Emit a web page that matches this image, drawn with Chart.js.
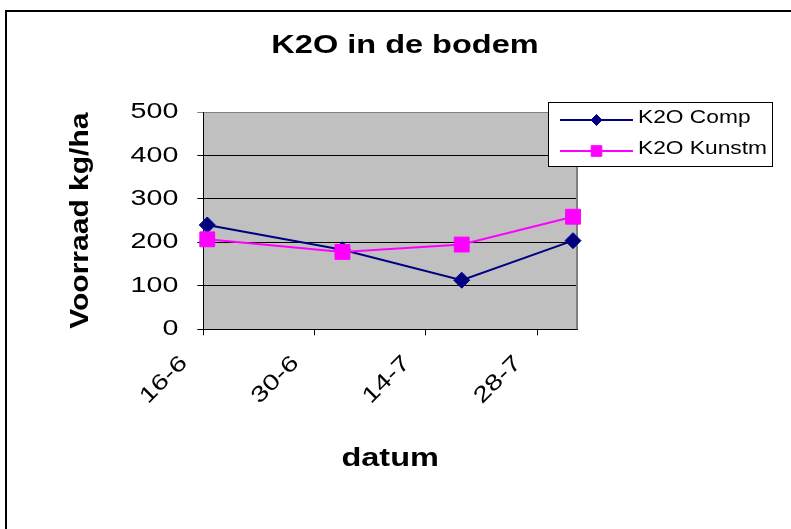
<!DOCTYPE html>
<html>
<head>
<meta charset="utf-8">
<title>K2O in de bodem</title>
<script src="https://cdn.jsdelivr.net/npm/chart.js@4.4.1/dist/chart.umd.min.js"></script>
<style>
    html, body { margin: 0; padding: 0; background: #fff; }
    #chart-container { position: relative; width: 791px; height: 529px; }
</style>
</head>
<body>
<div id="chart-container">
    <canvas id="k2oChart" width="791" height="529"></canvas>
</div>
<script>
// data (day-month)
const dates = ['16-6', '3-7', '18-7', '1-8'];
const compValues = [240, 183, 113, 204];
const kunstmValues = [207, 178, 195, 259];
const seriesLabels = ['K2O Comp', 'K2O Kunstm'];
const xTickLabels = ['16-6', '30-6', '14-7', '28-7'];
const xAxisEnd = '2-8';
const yTicks = [0, 100, 200, 300, 400, 500];

const FONT = '"Liberation Sans", Arial, sans-serif';
const NAVY = '#000080';
const PINK = '#FF00FF';

document.addEventListener('DOMContentLoaded', function () {
    buildChart();
});

// days since the first tick date
function dayNumber(label) {
    const [d, m] = label.split('-').map(Number);
    const [d0, m0] = xTickLabels[0].split('-').map(Number);
    return Math.round((Date.UTC(2000, m - 1, d) - Date.UTC(2000, m0 - 1, d0)) / 86400000);
}

// Excel date axis puts each point in the middle of its day slot
function toPoints(values) {
    return values.map((v, i) => ({ x: dayNumber(dates[i]) + 0.5, y: v }));
}

// old Excel exports draw text wider than normal: stretch it along the baseline
function widenText(ctx, factor, verticalFactor) {
    const origFill = ctx.fillText;
    const origMeasure = ctx.measureText;
    ctx.fillText = function (text, x, y) {
        const t = this.getTransform();
        const s = Math.abs(t.a) < 0.01 ? verticalFactor : factor;
        this.save();
        this.translate(x, y);
        this.scale(s, 1);
        origFill.call(this, text, 0, 0);
        this.restore();
    };
    ctx.measureText = function (text) {
        const m = origMeasure.call(this, text);
        return {
            width: m.width * factor,
            actualBoundingBoxAscent: m.actualBoundingBoxAscent,
            actualBoundingBoxDescent: m.actualBoundingBoxDescent,
            actualBoundingBoxLeft: m.actualBoundingBoxLeft * factor,
            actualBoundingBoxRight: m.actualBoundingBoxRight * factor
        };
    };
}

const plotAreaPlugin = {
    id: 'plotArea',
    beforeDraw(chart) {
        const { ctx, chartArea: a } = chart;
        ctx.save();
        ctx.fillStyle = '#C0C0C0';
        ctx.fillRect(a.left, a.top, a.right - a.left, a.bottom - a.top);
        ctx.restore();
    },
    beforeDatasetsDraw(chart) {
        const { ctx, chartArea: a } = chart;
        ctx.save();
        ctx.strokeStyle = '#808080';
        ctx.lineWidth = 2;
        ctx.beginPath();
        ctx.moveTo(a.right, a.top);
        ctx.lineTo(a.right, a.bottom);
        ctx.stroke();
        ctx.restore();
    }
};

const framePlugin = {
    id: 'frame',
    afterDraw(chart) {
        const ctx = chart.ctx;
        ctx.save();
        ctx.strokeStyle = '#000';
        ctx.lineWidth = 2;
        ctx.strokeRect(6, 11, 900, 700);
        ctx.restore();
    }
};

const legendBoxPlugin = {
    id: 'legendBox',
    afterDraw(chart) {
        const ctx = chart.ctx;
        const rows = [120, 151];
        ctx.save();
        ctx.fillStyle = '#fff';
        ctx.fillRect(548.5, 102.5, 224, 64);
        ctx.strokeStyle = '#000';
        ctx.lineWidth = 1;
        ctx.strokeRect(548.5, 102.5, 224, 64);

        chart.data.datasets.forEach((ds, i) => {
            const y = rows[i];
            ctx.strokeStyle = ds.borderColor;
            ctx.lineWidth = 2;
            ctx.beginPath();
            ctx.moveTo(560, y);
            ctx.lineTo(633, y);
            ctx.stroke();

            ctx.fillStyle = ds.pointBackgroundColor;
            ctx.strokeStyle = ds.pointBorderColor;
            ctx.lineWidth = 1;
            Chart.helpers.drawPoint(ctx, {
                pointStyle: ds.pointStyle,
                radius: ds.pointStyle === 'rect' ? 7.5 : 5.5,
                rotation: 0,
                borderWidth: 1
            }, 596.5, y);

            ctx.fillStyle = '#000';
            ctx.font = '17.5px ' + FONT;
            ctx.textAlign = 'left';
            ctx.textBaseline = 'middle';
            ctx.fillText(ds.label, 638, y - 1.5);
        });
        ctx.restore();
    }
};

function buildChart() {
    const ctx = document.getElementById('k2oChart').getContext('2d');
    widenText(ctx, 1.3, 1.2);
    const tickDays = xTickLabels.map(dayNumber);
    const leftPad = 19;

    new Chart(ctx, {
        type: 'line',
        data: {
            datasets: [{
                label: seriesLabels[0],
                data: toPoints(compValues),
                borderColor: NAVY,
                backgroundColor: NAVY,
                pointBackgroundColor: NAVY,
                pointBorderColor: NAVY,
                pointStyle: 'rectRot',
                pointRadius: 8,
                pointBorderWidth: 1,
                borderWidth: 2,
                clip: false,
                order: 1
            }, {
                label: seriesLabels[1],
                data: toPoints(kunstmValues),
                borderColor: PINK,
                backgroundColor: PINK,
                pointBackgroundColor: PINK,
                pointBorderColor: PINK,
                pointStyle: 'rect',
                pointRadius: 10.5,
                pointBorderWidth: 1,
                borderWidth: 2,
                clip: false,
                order: 0
            }]
        },
        options: {
            responsive: false,
            animation: false,
            layout: { padding: { top: 0, left: leftPad, right: 0, bottom: 0 } },
            scales: {
                x: {
                    type: 'linear',
                    min: 0,
                    max: dayNumber(xAxisEnd),
                    afterBuildTicks: (scale) => {
                        scale.ticks = tickDays.map(v => ({ value: v }));
                    },
                    afterFit: (scale) => { scale.height = 529 - 329.3; },
                    grid: { drawOnChartArea: false, tickLength: 6, color: '#000' },
                    border: { color: '#000', width: 1 },
                    ticks: {
                        minRotation: 45,
                        maxRotation: 45,
                        padding: 15,
                        labelOffset: -19,
                        color: '#000',
                        font: { family: FONT, size: 22 },
                        callback: (value) => xTickLabels[tickDays.indexOf(value)]
                    },
                    title: {
                        display: true,
                        text: 'datum',
                        color: '#000',
                        font: { family: FONT, size: 25, weight: 'bold' },
                        padding: { top: 0, bottom: 55 }
                    }
                },
                y: {
                    min: yTicks[0],
                    max: yTicks[yTicks.length - 1],
                    afterFit: (scale) => { scale.width = 203.3 - leftPad; },
                    grid: {
                        tickLength: 6,
                        color: (c) => c.tick && c.tick.value === yTicks[yTicks.length - 1] ? '#808080' : '#000'
                    },
                    border: { color: '#000', width: 1 },
                    ticks: {
                        stepSize: yTicks[1] - yTicks[0],
                        padding: 19,
                        color: '#000',
                        font: { family: FONT, size: 22 }
                    },
                    title: {
                        display: true,
                        text: 'Voorraad kg/ha',
                        color: '#000',
                        font: { family: FONT, size: 25, weight: 'bold' },
                        padding: { top: 81 - 15 - leftPad, bottom: 0 }
                    }
                },
                // empty axis keeping the space right of the plot
                gap: {
                    position: 'right',
                    grid: { display: false },
                    border: { display: false },
                    ticks: { display: false },
                    afterFit: (scale) => { scale.width = 791 - 577; }
                }
            },
            plugins: {
                legend: { display: false },
                tooltip: { enabled: false },
                title: {
                    display: true,
                    text: 'K2O in de bodem',
                    color: '#000',
                    font: { family: FONT, size: 25, weight: 'bold' },
                    padding: { top: 31, bottom: 51 }
                }
            }
        },
        plugins: [plotAreaPlugin, legendBoxPlugin, framePlugin]
    });
}
</script>
</body>
</html>
